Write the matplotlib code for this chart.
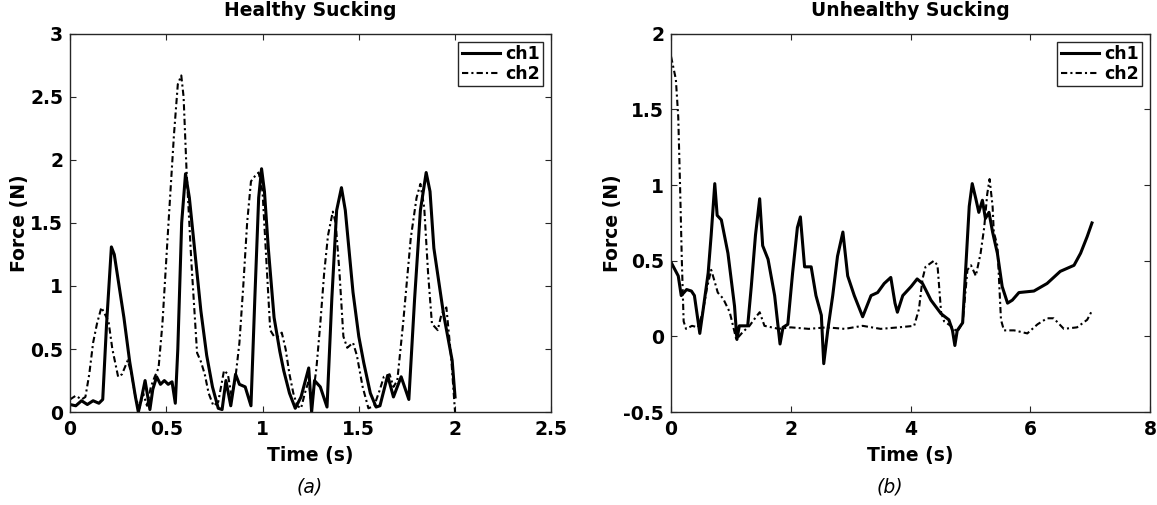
import numpy as np
import matplotlib
matplotlib.use('Agg')
import matplotlib.pyplot as plt
from matplotlib.ticker import FuncFormatter

# healthy sucking, ch1 / ch2 (time in s, force in N)
t_h1 = [0, 0.03, 0.06, 0.09, 0.12, 0.15, 0.17, 0.19, 0.215, 0.23, 0.25, 0.28, 0.31, 0.34, 0.355,
        0.37, 0.39, 0.415, 0.43, 0.45, 0.47, 0.49, 0.51, 0.53, 0.547, 0.56, 0.58, 0.60, 0.62, 0.65,
        0.68, 0.71, 0.74, 0.77, 0.79, 0.81, 0.835, 0.86, 0.88, 0.91, 0.94, 0.96, 0.98, 0.995, 1.01,
        1.03, 1.06, 1.09, 1.11, 1.14, 1.17, 1.20, 1.24, 1.255, 1.27, 1.30, 1.335, 1.36, 1.385, 1.41,
        1.43, 1.47, 1.50, 1.526, 1.56, 1.59, 1.61, 1.65, 1.68, 1.72, 1.76, 1.79, 1.82, 1.85, 1.87,
        1.89, 1.94, 1.985, 2.0]
f_h1 = [0.06, 0.05, 0.09, 0.06, 0.09, 0.07, 0.10, 0.7, 1.31, 1.25, 1.05, 0.75, 0.4, 0.12, 0.0,
        0.1, 0.25, 0.02, 0.18, 0.28, 0.22, 0.25, 0.22, 0.24, 0.07, 0.5, 1.5, 1.89, 1.7, 1.25,
        0.8, 0.45, 0.2, 0.03, 0.02, 0.25, 0.05, 0.3, 0.22, 0.2, 0.05, 0.9, 1.7, 1.93, 1.75,
        1.3, 0.75, 0.48, 0.33, 0.15, 0.03, 0.12, 0.35, 0.0, 0.25, 0.2, 0.04, 0.9, 1.6, 1.78,
        1.6, 0.95, 0.6, 0.39, 0.15, 0.04, 0.05, 0.29, 0.12, 0.28, 0.1, 0.9, 1.6, 1.9, 1.75,
        1.3, 0.78, 0.41, 0.12]

t_h2 = [0, 0.03, 0.06, 0.08, 0.10, 0.12, 0.14, 0.163, 0.18, 0.20, 0.22, 0.25, 0.27, 0.30, 0.32,
        0.34, 0.36, 0.38, 0.40, 0.42, 0.44, 0.46, 0.48, 0.51, 0.54, 0.56, 0.578, 0.59, 0.605, 0.63,
        0.66, 0.68, 0.70, 0.72, 0.745, 0.77, 0.80, 0.82, 0.84, 0.86, 0.88, 0.90, 0.92, 0.94, 0.96,
        0.98, 1.0, 1.02, 1.04, 1.06, 1.08, 1.10, 1.12, 1.14, 1.16, 1.18, 1.20, 1.22, 1.24, 1.255,
        1.28, 1.30, 1.32, 1.34, 1.365, 1.38, 1.40, 1.42, 1.44, 1.47, 1.49, 1.52, 1.55, 1.58, 1.61,
        1.63, 1.66, 1.68, 1.70, 1.73, 1.77, 1.80, 1.82, 1.84, 1.86, 1.88, 1.91, 1.93, 1.955, 1.98,
        2.0]
f_h2 = [0.1, 0.13, 0.1, 0.12, 0.3, 0.55, 0.7, 0.83, 0.78, 0.72, 0.5, 0.28, 0.3, 0.41, 0.3,
        0.12, 0.03, 0.15, 0.05, 0.2, 0.28, 0.35, 0.7, 1.46, 2.2, 2.6, 2.67, 2.5, 1.93, 1.2,
        0.47, 0.4, 0.3, 0.15, 0.05, 0.08, 0.33, 0.3, 0.12, 0.28, 0.55, 1.0, 1.5, 1.83, 1.87,
        1.9, 1.75, 1.2, 0.65, 0.6, 0.6, 0.63, 0.5, 0.3, 0.15, 0.05, 0.03, 0.15, 0.25, 0.05,
        0.35, 0.7, 1.1, 1.4, 1.59, 1.5, 1.1, 0.6, 0.51, 0.55, 0.45, 0.2, 0.03, 0.05, 0.18,
        0.28, 0.3, 0.2, 0.25, 0.7, 1.38, 1.7, 1.81, 1.62, 1.1, 0.7, 0.65, 0.78, 0.83, 0.43,
        0.0]

# unhealthy sucking
t_u1 = [0, 0.12, 0.17, 0.26, 0.34, 0.39, 0.48, 0.53, 0.62, 0.67, 0.73, 0.77, 0.84, 0.95, 1.06,
        1.10, 1.14, 1.28, 1.34, 1.41, 1.48, 1.53, 1.62, 1.73, 1.82, 1.87, 1.95, 2.03, 2.11, 2.16,
        2.23, 2.34, 2.42, 2.51, 2.55, 2.62, 2.70, 2.78, 2.87, 2.95, 3.06, 3.20, 3.34, 3.45, 3.56,
        3.67, 3.74, 3.78, 3.87, 4.01, 4.11, 4.20, 4.34, 4.51, 4.64, 4.70, 4.74, 4.78, 4.87, 4.92,
        4.98, 5.03, 5.09, 5.14, 5.20, 5.25, 5.31, 5.37, 5.45, 5.53, 5.62, 5.70, 5.81, 6.06, 6.28,
        6.50, 6.73, 6.84, 6.95, 7.03]
f_u1 = [0.49, 0.40, 0.27, 0.31, 0.30, 0.27, 0.02, 0.16, 0.42, 0.67, 1.01, 0.80, 0.77, 0.55, 0.20,
        -0.02, 0.07, 0.07, 0.33, 0.67, 0.91, 0.60, 0.51, 0.27, -0.05, 0.06, 0.08, 0.42, 0.72, 0.79,
        0.46, 0.46, 0.27, 0.14, -0.18, 0.05, 0.27, 0.53, 0.69, 0.40, 0.27, 0.13, 0.27, 0.29, 0.35,
        0.39, 0.22, 0.16, 0.27, 0.33, 0.38, 0.35, 0.24, 0.15, 0.11, 0.04, -0.06, 0.04, 0.09, 0.44,
        0.86, 1.01, 0.91, 0.82, 0.90, 0.78, 0.82, 0.69, 0.55, 0.33, 0.22, 0.24, 0.29, 0.30, 0.35,
        0.43, 0.47, 0.55, 0.66, 0.75]

t_u2 = [0, 0.08, 0.12, 0.15, 0.18, 0.21, 0.25, 0.35, 0.45, 0.53, 0.60, 0.67, 0.73, 0.78, 0.87,
        0.98, 1.09, 1.20, 1.31, 1.42, 1.48, 1.56, 1.8, 2.0, 2.3, 2.6, 2.9, 3.2, 3.5, 3.8,
        4.06, 4.14, 4.20, 4.25, 4.39, 4.45, 4.51, 4.56, 4.67, 4.78, 4.87, 4.95, 5.01, 5.09, 5.17,
        5.23, 5.28, 5.32, 5.37, 5.39, 5.45, 5.51, 5.56, 5.73, 5.95, 6.12, 6.28, 6.39, 6.56, 6.78,
        6.95, 7.03]
f_u2 = [1.85, 1.70, 1.45, 1.0, 0.5, 0.1, 0.05, 0.07, 0.06, 0.16, 0.32, 0.44, 0.36, 0.29, 0.25,
        0.16, -0.02, 0.03, 0.07, 0.13, 0.16, 0.07, 0.05, 0.06, 0.05, 0.06, 0.05, 0.07, 0.05, 0.06,
        0.07, 0.18, 0.38, 0.46, 0.50, 0.47, 0.16, 0.10, 0.07, 0.03, 0.09, 0.44, 0.47, 0.40, 0.55,
        0.72, 0.94, 1.04, 0.86, 0.69, 0.60, 0.11, 0.04, 0.04, 0.02, 0.08, 0.12, 0.12, 0.05, 0.06,
        0.11, 0.17]

plt.rcParams['font.family'] = 'DejaVu Sans'
plt.rcParams['font.weight'] = 'bold'
plt.rcParams['axes.unicode_minus'] = False

fs = 13.5
dashdot = (0, (3, 1.5, 1, 1.5))

fig = plt.figure(figsize=(11.57, 5.05), dpi=100)
ax1 = fig.add_axes([0.0605, 0.184, 0.416, 0.749])
ax2 = fig.add_axes([0.580, 0.184, 0.414, 0.749])

fmt = FuncFormatter(lambda v, pos: '%g' % v)

def style(ax, title):
    ax.set_title(title, fontsize=fs, fontweight='bold', pad=12.5)
    ax.set_xlabel('Time (s)', fontsize=fs, fontweight='bold', labelpad=4.5)
    ax.set_ylabel('Force (N)', fontsize=fs, fontweight='bold', labelpad=1)
    ax.tick_params(direction='in', top=True, right=True, length=4, width=0.8,
                   labelsize=fs, color='#262626')
    ax.tick_params(axis='x', pad=6)
    ax.tick_params(axis='y', pad=5)
    for s in ax.spines.values():
        s.set_color('#262626')
        s.set_linewidth(1.0)
    ax.xaxis.set_major_formatter(fmt)
    ax.yaxis.set_major_formatter(fmt)
    for lab in ax.get_xticklabels() + ax.get_yticklabels():
        lab.set_fontweight('bold')
    leg = ax.legend(loc='upper right', fontsize=12.5, handlelength=2.2, handletextpad=0.3,
                    borderpad=0.2, labelspacing=0.1, fancybox=False, framealpha=1,
                    borderaxespad=0.45)
    leg.get_frame().set_edgecolor('#262626')
    leg.get_frame().set_linewidth(1.0)

ax1.plot(t_h1, f_h1, color='black', lw=2.2, label='ch1')
ax1.plot(t_h2, f_h2, color='black', lw=1.5, ls=dashdot, label='ch2')
ax1.set_xlim(0, 2.5)
ax1.set_ylim(0, 3)
ax1.set_xticks([0, 0.5, 1, 1.5, 2, 2.5])
ax1.set_yticks([0, 0.5, 1, 1.5, 2, 2.5, 3])
style(ax1, 'Healthy Sucking')

ax2.plot(t_u1, f_u1, color='black', lw=2.2, label='ch1')
ax2.plot(t_u2, f_u2, color='black', lw=1.5, ls=dashdot, label='ch2')
ax2.set_xlim(0, 8)
ax2.set_ylim(-0.5, 2)
ax2.set_xticks([0, 2, 4, 6, 8])
ax2.set_yticks([-0.5, 0, 0.5, 1, 1.5, 2])
style(ax2, 'Unhealthy Sucking')

fig.text(0.268, 0.036, '(a)', fontsize=13.5, fontstyle='italic', fontweight='normal', ha='center', va='center')
fig.text(0.769, 0.036, '(b)', fontsize=13.5, fontstyle='italic', fontweight='normal', ha='center', va='center')

fig.savefig('out.png', dpi=100)
